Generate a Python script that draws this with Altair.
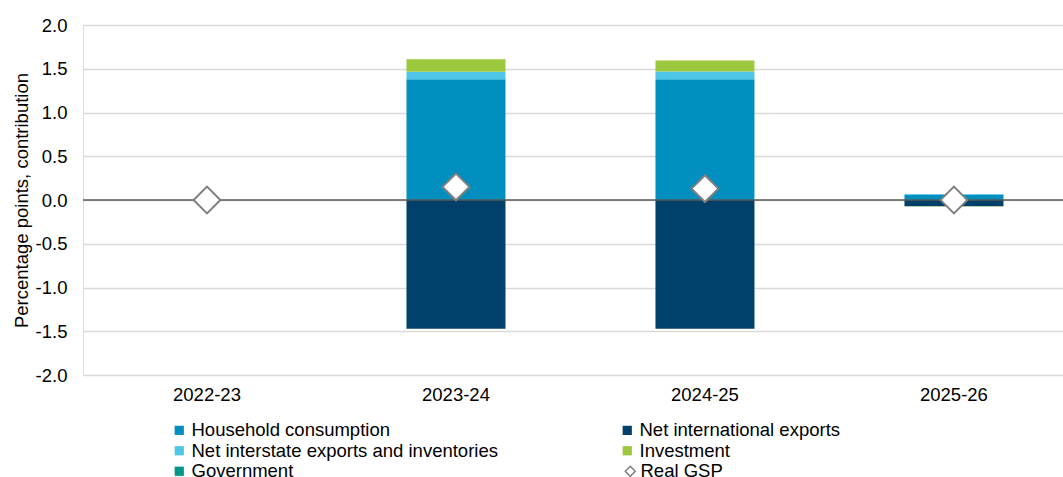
import altair as alt
import pandas as pd

categories = ["2022-23", "2023-24", "2024-25", "2025-26"]
series_names = [
    "Household consumption",
    "Net international exports",
    "Net interstate exports and inventories",
    "Investment",
    "Government",
]
# legend order (legend fills column by column)
legend_order = [
    "Household consumption",
    "Net interstate exports and inventories",
    "Government",
    "Net international exports",
    "Investment",
]
household = [0.0, 1.38, 1.38, 0.06]
net_international = [0.0, -1.47, -1.47, -0.07]
net_interstate = [0.0, 0.085, 0.09, 0.01]
investment = [0.0, 0.145, 0.125, -0.005]
government = [0.0, 0.0, 0.0, 0.0]
real_gsp = [0.0, 0.15, 0.13, 0.0]
y_ticks = [-2.0, -1.5, -1.0, -0.5, 0.0, 0.5, 1.0, 1.5, 2.0]

color_map = {
    "Household consumption": "#008FBE",
    "Net international exports": "#00416B",
    "Net interstate exports and inventories": "#4FC5E8",
    "Investment": "#9BC83C",
    "Government": "#00968A",
}

rows = []
for i, name in enumerate(series_names):
    vals = [household, net_international, net_interstate, investment, government][i]
    for c, v in zip(categories, vals):
        rows.append({"year": c, "series": name, "value": v, "ord": i})
bars_df = pd.DataFrame(rows)
gsp_df = pd.DataFrame({"year": categories, "value": real_gsp, "label": ["Real GSP"] * 4})

FONT = "Liberation Sans"
FS = 18.5

x_enc = alt.X(
    "year:N",
    sort=categories,
    scale=alt.Scale(paddingInner=0.6, paddingOuter=0.268, align=0.556),
    axis=alt.Axis(title=None, labelAngle=0, domain=False, ticks=False, labelPadding=10,
                  labelFontSize=FS, labelFont=FONT, labelColor="#000000", grid=False),
)
y_scale = alt.Scale(domain=[-2, 2], nice=False, zero=False)
y_axis = alt.Axis(
    title="Percentage points, contribution",
    values=y_ticks, domain=False, ticks=False, labelPadding=16,
    labelExpr="replace(format(datum.value, '.1f'), '\u2212', '-')",
    labelFontSize=FS, labelFont=FONT, labelColor="#000000",
    titleFontSize=FS, titleFont=FONT, titleFontWeight="normal", titleColor="#000000",
    titlePadding=4, grid=True, gridColor="#D9D9D9", gridWidth=1.5,
)

bars = alt.Chart(bars_df).mark_bar(size=99).encode(
    x=x_enc,
    y=alt.Y("value:Q", stack="zero", scale=y_scale, axis=y_axis),
    color=alt.Color(
        "series:N",
        scale=alt.Scale(domain=legend_order, range=[color_map[s] for s in legend_order]),
        legend=alt.Legend(
            title=None, orient="none", legendX=87, legendY=396, columns=2,
            columnPadding=120, rowPadding=1.5, padding=0,
            symbolType="square", symbolSize=85, symbolStrokeWidth=0, symbolOffset=0,
            labelFontSize=FS, labelFont=FONT, labelColor="#000000", labelOffset=3,
            labelLimit=500,
        ),
    ),
    order=alt.Order("ord:Q"),
)

zero = alt.Chart(pd.DataFrame({"v": [0.0]})).mark_rule(color="#595959", strokeWidth=1.5).encode(
    y=alt.Y("v:Q", scale=y_scale)
)

gsp_legend = alt.Legend(
    title=None, orient="none", legendX=538, legendY=437, padding=0,
    symbolType="diamond", symbolSize=100,
    symbolFillColor="#FFFFFF", symbolStrokeWidth=1.5, symbolOpacity=1,
    labelFontSize=FS, labelFont=FONT, labelColor="#000000", labelOffset=1,
)

points = alt.Chart(gsp_df).mark_point(
    filled=False, fill="#FFFFFF", fillOpacity=1, strokeWidth=2, size=720, opacity=1
).encode(
    x=alt.X("year:N", sort=categories),
    y=alt.Y("value:Q", scale=y_scale),
    shape=alt.Shape(
        "label:N",
        scale=alt.Scale(domain=["Real GSP"], range=["diamond"]),
        legend=gsp_legend,
    ),
    stroke=alt.Stroke(
        "label:N",
        scale=alt.Scale(domain=["Real GSP"], range=["#7F7F7F"]),
        legend=gsp_legend,
    ),
)

chart = alt.layer(bars, zero, points).resolve_scale(color="independent").properties(
    width=980, height=350,
    autosize=alt.AutoSizeParams(type="none"),
    padding={"left": 83, "top": 25, "right": 0, "bottom": 102},
).configure_view(stroke=None).configure(background="#FFFFFF")

chart.save("out.html", embed_options={"renderer": "svg", "actions": False})
